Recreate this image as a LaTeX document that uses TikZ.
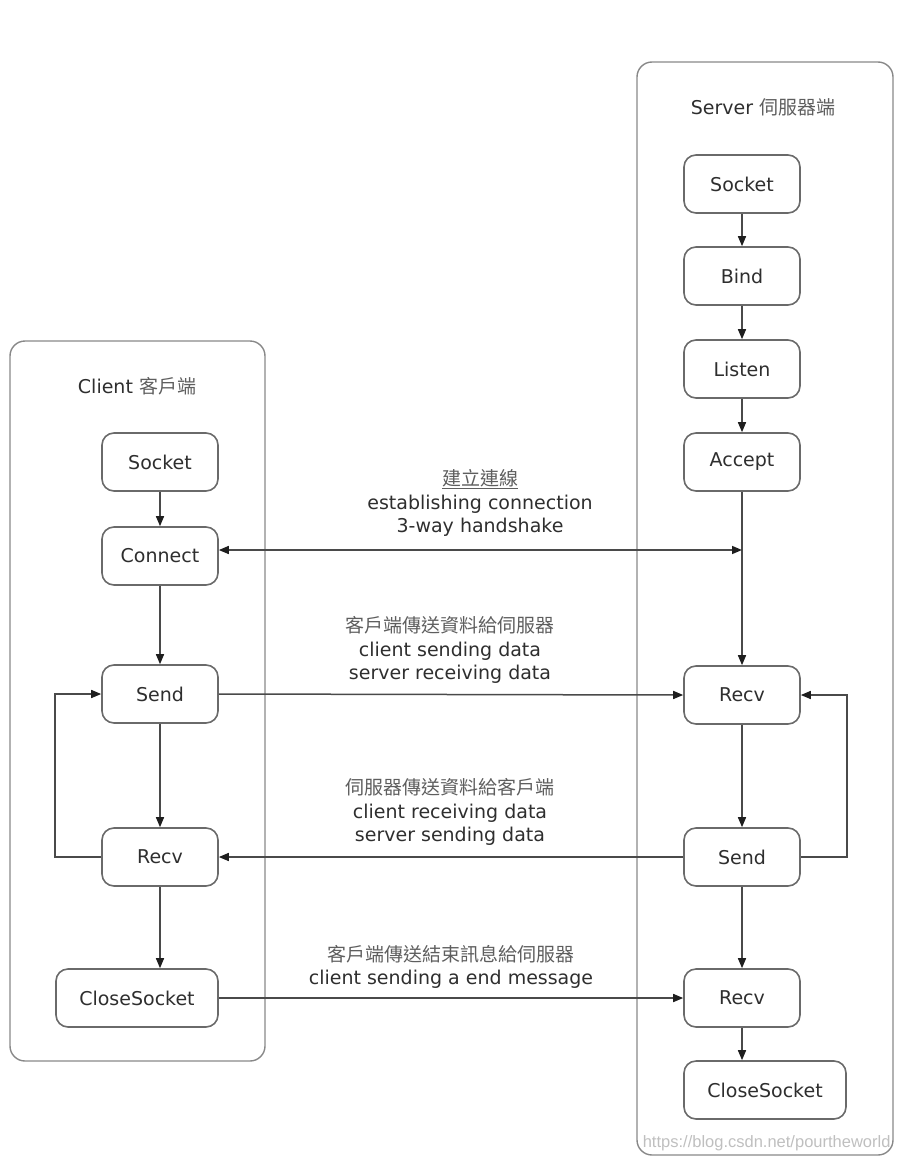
\documentclass[tikz,border=0pt]{standalone}
\usepackage{fontspec}
\setmainfont{DejaVu Sans}
\newfontfamily\cjk{Noto Sans CJK TC}
\usetikzlibrary{arrows.meta}
\definecolor{txt}{HTML}{2E2E2E}
\definecolor{cjktxt}{HTML}{5E5E5E}
\definecolor{boxline}{HTML}{6A6A6A}
\definecolor{conn}{HTML}{4A4A4A}
\definecolor{tipc}{HTML}{1E1E1E}
\tikzset{
  stepbox/.style={draw=boxline, line width=1.6pt, rounded corners=12pt, fill=white,
    minimum width=116pt, minimum height=58pt, inner sep=0pt, text=txt,
    font=\fontsize{19}{23}\selectfont},
  widebox/.style={stepbox, minimum width=162pt},
  container/.style={draw=boxline!80, line width=1.4pt, rounded corners=15pt, inner sep=0pt},
  title/.style={text=txt, font=\fontsize{19}{23}\selectfont},
  lbl/.style={text=txt, align=center, font=\fontsize{19}{23.5}\selectfont},
  tip/.tip={Triangle[length=10pt,width=8pt,color=tipc]},
  arr/.style={draw=conn, line width=1.5pt, -tip},
  darr/.style={draw=conn, line width=1.5pt, tip-tip},
}
\begin{document}
\begin{tikzpicture}[x=1pt,y=-1pt]
\useasboundingbox (0,0) rectangle (900,1164);
% containers
\node[container, minimum width=256pt, minimum height=1093pt] (server) at (765,608.5) {};
\node[container, minimum width=255pt, minimum height=720pt] (client) at (137.5,701) {};
\node[title] (stitle) at (763,107) {Server {\cjk\color{cjktxt}伺服器端}};
\node[title] (ctitle) at (137,386) {Client {\cjk\color{cjktxt}客戶端}};
% server boxes
\node[stepbox] (ssock) at (742,184) {Socket};
\node[stepbox] (sbind) at (742,276) {Bind};
\node[stepbox] (slist) at (742,369) {Listen};
\node[stepbox] (sacc) at (742,462) {Accept};
\node[stepbox] (srecv) at (742,695) {Recv};
\node[stepbox] (ssend) at (742,857) {Send};
\node[stepbox] (srecvb) at (742,998) {Recv};
\node[widebox] (sclose) at (765,1090) {CloseSocket};
% client boxes
\node[stepbox] (csock) at (160,462) {Socket};
\node[stepbox] (cconn) at (160,556) {Connect};
\node[stepbox] (csend) at (160,694) {Send};
\node[stepbox] (crecv) at (160,857) {Recv};
\node[widebox] (cclose) at (137,998) {CloseSocket};
% server arrows
\draw[arr] (ssock) -- (sbind);
\draw[arr] (sbind) -- (slist);
\draw[arr] (slist) -- (sacc);
\draw[arr] (sacc) -- (srecv);
\draw[arr] (srecv) -- (ssend);
\draw[arr] (ssend) -- (srecvb);
\draw[arr] (srecvb.south) -- (srecvb.south |- sclose.north);
\draw[arr] (ssend.east) -- ++(46,0) |- (srecv.east);
% client arrows
\draw[arr] (csock) -- (cconn);
\draw[arr] (cconn) -- (csend);
\draw[arr] (csend) -- (crecv);
\draw[arr] (crecv.south) -- (crecv.south |- cclose.north);
\draw[arr] (crecv.west) -- ++(-46,0) |- (csend.west);
% cross arrows
\coordinate (hs) at (sacc.south |- 0,550);
\draw[darr] (cconn.east |- hs) -- (hs);
\draw[arr] (csend.east) -- (srecv.west);
\draw[arr] (ssend.west) -- (crecv.east);
\draw[arr] (cclose.east) -- (srecvb.west);
% labels
\node[lbl] (l1) at (480,503) {{\cjk\color{cjktxt}\underline{建立連線}}\\establishing connection\\3-way handshake};
\node[lbl] (l2) at (450,650) {{\cjk\color{cjktxt}客戶端傳送資料給伺服器}\\client sending data\\server receiving data};
\node[lbl] (l3) at (450,812) {{\cjk\color{cjktxt}伺服器傳送資料給客戶端}\\client receiving data\\server sending data};
\node[lbl] (l4) at (451,967) {{\cjk\color{cjktxt}客戶端傳送結束訊息給伺服器}\\client sending a end message};
% watermark
\node[text=black!25, font={\fontspec{Liberation Sans}\fontsize{16.5}{18}\selectfont}, anchor=east] (wm) at (894,1143) {https://blog.csdn.net/pourtheworld};
\end{tikzpicture}
\end{document}
